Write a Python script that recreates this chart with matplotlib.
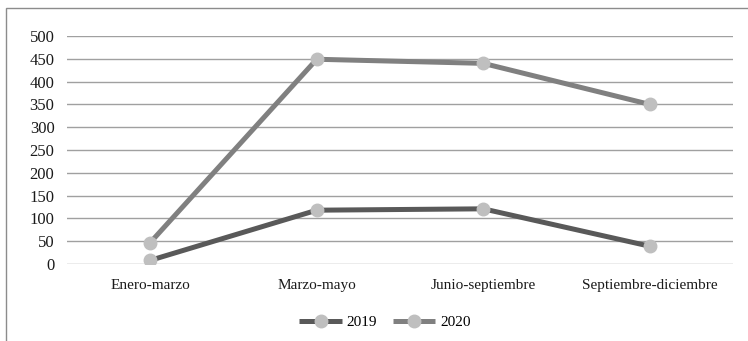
import matplotlib
matplotlib.use("Agg")
import matplotlib.pyplot as plt
from matplotlib.patches import Rectangle

periodos = ["Enero-marzo", "Marzo-mayo", "Junio-septiembre", "Septiembre-diciembre"]
serie_2019 = [8, 118, 121, 39]
serie_2020 = [47, 449, 440, 350]
yticks = [0, 50, 100, 150, 200, 250, 300, 350, 400, 450, 500]

plt.rcParams["font.family"] = ["Liberation Serif", "DejaVu Serif"]

fig = plt.figure(figsize=(7.48, 3.41), dpi=100)
ax = fig.add_axes([67 / 748, 1 - 264 / 341, 666 / 748, 228 / 341])

# marco exterior del gráfico
fig.patches.append(Rectangle((6 / 748, -0.2), 1.2, 1.2 - 8 / 341,
                             transform=fig.transFigure, fill=False,
                             edgecolor="#8c8c8c", linewidth=1.0))

x = range(len(periodos))
ax.plot(x, serie_2019, color="#595959", linewidth=3.6, marker="o",
        markersize=9, markerfacecolor="#bfbfbf", markeredgecolor="#bfbfbf",
        label="2019", solid_capstyle="butt")
ax.plot(x, serie_2020, color="#808080", linewidth=3.6, marker="o",
        markersize=9, markerfacecolor="#bfbfbf", markeredgecolor="#bfbfbf",
        label="2020", solid_capstyle="butt")

ax.set_xlim(-0.5, len(periodos) - 0.5)
ax.set_ylim(0, 500)
ax.set_yticks(yticks)
ax.set_xticks(list(x))
ax.set_xticklabels(periodos)
ax.yaxis.grid(True, color="#a0a0a0", linewidth=1)
ax.set_axisbelow(True)
for s in ax.spines.values():
    s.set_visible(False)
ax.tick_params(axis="both", length=0, colors="#1a1a1a")
ax.tick_params(axis="x", pad=11, labelsize=11)
ax.tick_params(axis="y", pad=9, labelsize=12)

ax.legend(loc="center", bbox_to_anchor=(385 / 748, 1 - 322 / 341),
          bbox_transform=fig.transFigure, ncol=2, frameon=False,
          fontsize=11, handlelength=2.8, columnspacing=1.0, handletextpad=0.3)

fig.savefig("out.png", dpi=100)
